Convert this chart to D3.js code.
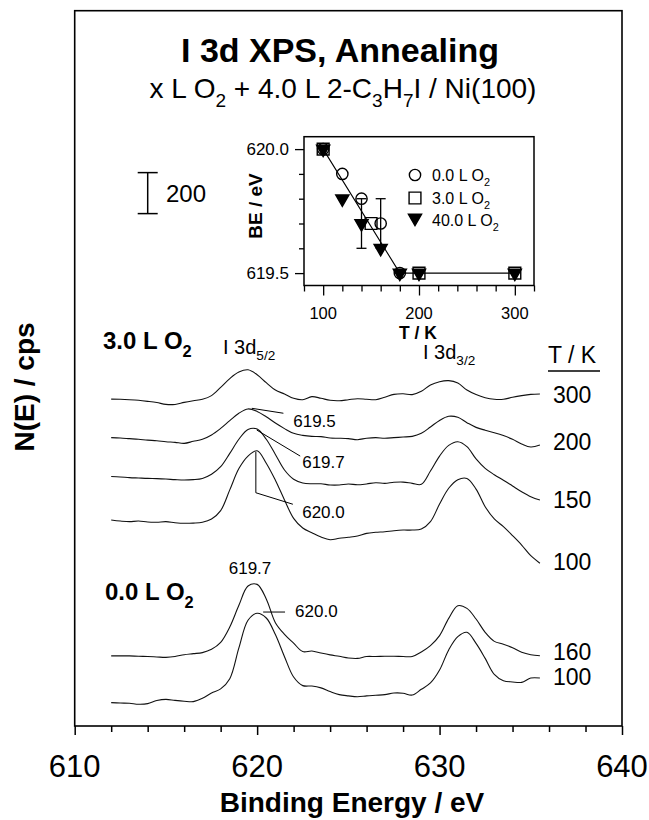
<!DOCTYPE html>
<html><head><meta charset="utf-8">
<script src="https://cdn.jsdelivr.net/npm/d3@7/dist/d3.min.js"></script>
<style>
body{margin:0;background:#fff}
text{font-family:"Liberation Sans",Arial,Helvetica,sans-serif;fill:#000}
</style>
</head><body>
<svg id="c" width="649" height="820"></svg>
<script>
// ---------------- DATA ----------------
const energies = [612,612.5,613,613.5,614,614.5,615,615.5,616,616.5,617,617.5,618,618.5,619,619.5,620,620.5,621,621.5,622,622.5,623,623.5,624,624.5,625,625.5,626,626.5,627,627.5,628,628.5,629,629.5,630,630.5,631,631.5,632,632.5,633,633.5,634,634.5,635,635.5];
// displayed (offset) intensities, cps
const spec3_300 = [1595,1594,1592,1589,1584,1578,1569,1569,1579,1587,1594,1612,1652,1695,1727,1738,1714,1675,1639,1620,1599,1592,1607,1599,1589,1587,1592,1597,1594,1592,1604,1618,1621,1617,1633,1664,1680,1685,1673,1639,1617,1602,1594,1594,1604,1612,1618,1620];
const spec3_200 = [1407,1405,1402,1399,1395,1392,1387,1384,1379,1389,1399,1420,1452,1490,1526,1547,1535,1509,1478,1451,1428,1418,1413,1412,1405,1404,1402,1397,1404,1407,1404,1407,1410,1413,1428,1459,1491,1511,1506,1480,1457,1443,1431,1417,1399,1376,1361,1371];
const spec3_150 = [1217,1215,1212,1210,1208,1207,1205,1202,1200,1202,1208,1228,1265,1330,1399,1447,1449,1399,1325,1249,1204,1186,1182,1182,1176,1176,1181,1177,1181,1187,1184,1189,1190,1184,1179,1244,1317,1369,1387,1363,1303,1257,1226,1199,1171,1143,1119,1103];
const spec3_100 = [1005,1000,997,1000,995,994,997,992,989,990,994,1010,1051,1152,1256,1317,1343,1282,1199,1103,1013,966,943,922,909,916,921,927,940,945,948,953,956,956,961,997,1083,1160,1202,1208,1156,1070,1010,973,929,883,831,794];
const spec0_160 = [342,342,342,340,339,337,335,339,348,353,358,374,408,483,589,683,691,620,504,447,404,363,366,356,347,340,332,330,339,339,340,340,339,339,361,392,441,525,587,574,522,457,413,399,382,360,348,343];
const spec0_100 = [114,112,111,106,109,124,130,125,121,119,135,161,181,231,381,516,550,527,446,338,239,197,195,186,168,153,147,143,147,150,153,161,160,151,179,210,273,371,436,457,403,330,252,221,215,213,234,234];
const specTemps = ["300","200","150","100","160","100"];

const xMajorTicks = [610,620,630,640];
const xMinorTicks = [612,614,616,618,622,624,626,628,632,634,636,638];
const scaleBarBase = 2500, scaleBarSize = 200;

// inset: BE vs T
const t0 = [100,120,140,160,180];            const be0 = [620.0,619.9,619.8,619.7,619.5];
const t3 = [100,150,200,300];                const be3 = [620.0,619.7,619.5,619.5];
const t40 = [100,120,140,160,180,200,300];   const be40 = [620.0,619.8,619.7,619.6,619.5,619.5,619.5];
const errT = [140,160], errBE = [619.7,619.7], errHalf = [0.1,0.1];
const fitT = [100,180,300], fitBE = [620.0,619.5,619.5];
const insetXMajor = [100,200,300];
const insetXMinor = [80,120,140,160,180,220,240,260,280,320];
const insetYMajor = [619.5,620.0];
const insetYMinor = [619.6,619.7,619.8,619.9];

// ---------------- CHART ----------------
const svg = d3.select("#c");
const L=74.7, R=622, T=10.7, B=726;
const x = d3.scaleLinear().domain([610,640]).range([L,R]);
const y = d3.scaleLinear().domain([0,3490]).range([B,T]);

function rich(g, px, py, parts, size, opt={}) {
  const t = g.append("text").attr("x",px).attr("y",py).attr("font-size",size)
    .attr("text-anchor", opt.anchor||"start").attr("font-weight", opt.bold?"bold":"normal");
  if (opt.transform) t.attr("transform", opt.transform);
  let shift = 0;
  parts.forEach(p => {
    const s = (typeof p === "string") ? {t:p} : p;
    const ts = t.append("tspan").text(s.t);
    if (s.sub) { const d = size*0.32; ts.attr("dy", d-shift).attr("font-size", size*0.68); shift = d; }
    else if (shift) { ts.attr("dy", -shift); shift = 0; }
  });
  return t;
}

// frame
svg.append("rect").attr("x",L).attr("y",T).attr("width",R-L).attr("height",B-T)
  .attr("fill","none").attr("stroke","#000").attr("stroke-width",1.6);

// x axis
const gx = svg.append("g").attr("transform",`translate(0,${B})`);
gx.call(d3.axisBottom(x).tickValues(xMajorTicks).tickSize(9).tickFormat(""));
gx.call(g=>g.select(".domain").remove());
const gx2 = svg.append("g").attr("transform",`translate(0,${B})`);
gx2.call(d3.axisBottom(x).tickValues(xMinorTicks).tickSize(6).tickFormat(""));
gx2.call(g=>g.select(".domain").remove());
svg.selectAll(".tick line").attr("stroke","#000").attr("stroke-width",1.5);
svg.selectAll(".xlab").data(xMajorTicks).enter().append("text")
  .attr("x",d=>x(d)).attr("y",777).attr("text-anchor","middle").attr("font-size",31).text(d=>d);
svg.append("text").attr("x",352).attr("y",812).attr("text-anchor","middle")
  .attr("font-size",28).attr("font-weight","bold").text("Binding Energy / eV");
svg.append("text").attr("transform","translate(34,387) rotate(-90)").attr("text-anchor","middle")
  .attr("font-size",28).attr("font-weight","bold").text("N(E) / cps");

// titles
svg.append("text").attr("x",340).attr("y",62).attr("text-anchor","middle")
  .attr("font-size",34).attr("font-weight","bold").text("I 3d XPS, Annealing");
rich(svg, 343, 98, ["x L O",{t:"2",sub:true}," + 4.0 L 2-C",{t:"3",sub:true},"H",{t:"7",sub:true},"I / Ni(100)"], 28, {anchor:"middle"});

// spectra
const line = d3.line().x(d=>x(d[0])).y(d=>y(d[1])).curve(d3.curveCatmullRom.alpha(0.5));
const specs = [spec3_300,spec3_200,spec3_150,spec3_100,spec0_160,spec0_100];
svg.append("g").selectAll("path").data(specs).enter().append("path")
  .attr("d", s => line(energies.map((e,i)=>[e,s[i]])))
  .attr("fill","none").attr("stroke","#111").attr("stroke-width",1.1);

// temperature labels
const tl = [403,450,508,570,660,685];
svg.selectAll(".tlab").data(specTemps).enter().append("text")
  .attr("x",553).attr("y",(d,i)=>tl[i]).attr("font-size",23).text(d=>d);
svg.append("text").attr("x",548).attr("y",363).attr("font-size",23).text("T / K");
svg.append("line").attr("x1",548).attr("x2",600).attr("y1",371).attr("y2",371).attr("stroke","#000").attr("stroke-width",1.4);

// group labels
rich(svg, 103, 349, ["3.0 L O",{t:"2",sub:true}], 24, {bold:true});
rich(svg, 105, 600, ["0.0 L O",{t:"2",sub:true}], 24, {bold:true});
rich(svg, 223, 354, ["I 3d",{t:"5/2",sub:true}], 20);
rich(svg, 423, 359, ["I 3d",{t:"3/2",sub:true}], 20);

// peak annotations (energy, cps)
const annLines = [
  [[619.71,1550],[621.44,1526]],
  [[619.98,1444],[622.36,1317]],
  [[619.93,1338],[619.93,1138],[621.96,1082]],
  [[620.33,556],[621.53,556]]
];
const annText = [["619.5",621.98,1460],["619.7",622.47,1259],["620.0",622.47,1015],["620.0",622.08,532]];
const al = d3.line().x(d=>x(d[0])).y(d=>y(d[1]));
svg.append("g").selectAll("path").data(annLines).enter().append("path")
  .attr("d",al).attr("fill","none").attr("stroke","#000").attr("stroke-width",1);
svg.selectAll(".ann").data(annText).enter().append("text")
  .attr("x",d=>x(d[1])).attr("y",d=>y(d[2])).attr("font-size",17).text(d=>d[0]);
svg.append("text").attr("x",250).attr("y",574).attr("text-anchor","middle").attr("font-size",17).text("619.7");

// scale bar
const sbx = 147.7;
svg.append("line").attr("x1",sbx).attr("x2",sbx).attr("y1",y(scaleBarBase)).attr("y2",y(scaleBarBase+scaleBarSize)).attr("stroke","#000").attr("stroke-width",1.5);
[scaleBarBase, scaleBarBase+scaleBarSize].forEach(v=>svg.append("line").attr("x1",sbx-10).attr("x2",sbx+10)
  .attr("y1",y(v)).attr("y2",y(v)).attr("stroke","#000").attr("stroke-width",1.5));
svg.append("text").attr("x",166).attr("y",(y(scaleBarBase)+y(scaleBarBase+scaleBarSize))/2+8.5).attr("font-size",24).text(String(scaleBarSize));

// ---------------- INSET ----------------
const iL=304, iR=534, iT=136.7, iB=285.5;
const xi = d3.scaleLinear().domain([80,320]).range([iL,iR]);
const yi = d3.scaleLinear().domain([619.45,620.05]).range([iB,iT]);
const gi = svg.append("g");
gi.append("rect").attr("x",iL).attr("y",iT).attr("width",iR-iL).attr("height",iB-iT)
  .attr("fill","none").attr("stroke","#000").attr("stroke-width",1.5);
function ticks(axis, tickSize, tf) {
  const g = gi.append("g").call(axis.tickSize(tickSize).tickFormat(""));
  g.select(".domain").remove();
  g.selectAll(".tick line").attr("stroke","#000").attr("stroke-width",1.3);
  if (tf) g.attr("transform", tf);
}
ticks(d3.axisBottom(xi).tickValues(insetXMajor), 10, `translate(0,${iB})`);
ticks(d3.axisBottom(xi).tickValues(insetXMinor), 6, `translate(0,${iB})`);
ticks(d3.axisLeft(yi).tickValues(insetYMajor), 9, `translate(${iL},0)`);
ticks(d3.axisLeft(yi).tickValues(insetYMinor), 5, `translate(${iL},0)`);
gi.selectAll(".ixl").data(insetXMajor).enter().append("text").attr("x",d=>xi(d)).attr("y",319)
  .attr("text-anchor","middle").attr("font-size",16.5).text(d=>d);
gi.selectAll(".iyl").data(insetYMajor).enter().append("text").attr("x",289).attr("y",d=>yi(d)+6)
  .attr("text-anchor","end").attr("font-size",17).text(d=>d.toFixed(1));
gi.append("text").attr("x",418).attr("y",338.5).attr("text-anchor","middle").attr("font-size",17.5).attr("font-weight","bold").text("T / K");
gi.append("text").attr("transform","translate(262,206) rotate(-90)").attr("text-anchor","middle").attr("font-size",19).attr("font-weight","bold").text("BE / eV");

// fit line
gi.append("path").attr("d", d3.line().x(d=>xi(d[0])).y(d=>yi(d[1]))(fitT.map((t,i)=>[t,fitBE[i]])))
  .attr("fill","none").attr("stroke","#000").attr("stroke-width",1.1);
// error bars
errT.forEach((t,i)=>{
  const x0 = xi(t), y1 = yi(errBE[i]-errHalf[i]), y2 = yi(errBE[i]+errHalf[i]);
  gi.append("line").attr("x1",x0).attr("x2",x0).attr("y1",y1).attr("y2",y2).attr("stroke","#000").attr("stroke-width",1.3);
  [y1,y2].forEach(yy=>gi.append("line").attr("x1",x0-5).attr("x2",x0+5).attr("y1",yy).attr("y2",yy).attr("stroke","#000").attr("stroke-width",1.3));
});
const circ = d3.symbol().type(d3.symbolCircle).size(100);
const sq = d3.symbol().type(d3.symbolSquare).size(140);
const tri = d3.symbol().type(d3.symbolTriangle).size(75);
function markers(ts, bes, sym, filled, rot) {
  gi.append("g").selectAll("path").data(ts.map((t,i)=>[t,bes[i]])).enter().append("path")
    .attr("d", sym).attr("transform", d=>`translate(${xi(d[0])},${yi(d[1])})${rot?" rotate(180)":""}`)
    .attr("fill", filled?"#000":"none").attr("stroke","#000").attr("stroke-width",1.4);
}
markers(t0, be0, circ, false);
markers(t3, be3, sq, false);
markers(t40, be40, tri, true, true);

// legend
const legY = [175,198,220];
const legLab = ["0.0 L O","3.0 L O","40.0 L O"];
const lg = gi.append("g");
lg.append("path").attr("d",circ).attr("transform",`translate(415,${legY[0]})`).attr("fill","none").attr("stroke","#000").attr("stroke-width",1.4);
lg.append("path").attr("d",sq).attr("transform",`translate(415,${legY[1]})`).attr("fill","none").attr("stroke","#000").attr("stroke-width",1.4);
lg.append("path").attr("d",tri).attr("transform",`translate(415,${legY[2]-2}) rotate(180)`).attr("fill","#000").attr("stroke","#000").attr("stroke-width",1.4);
legLab.forEach((l,i)=>rich(lg, 432, legY[i]+6, [l,{t:"2",sub:true}], 16));
</script>
</body></html>
